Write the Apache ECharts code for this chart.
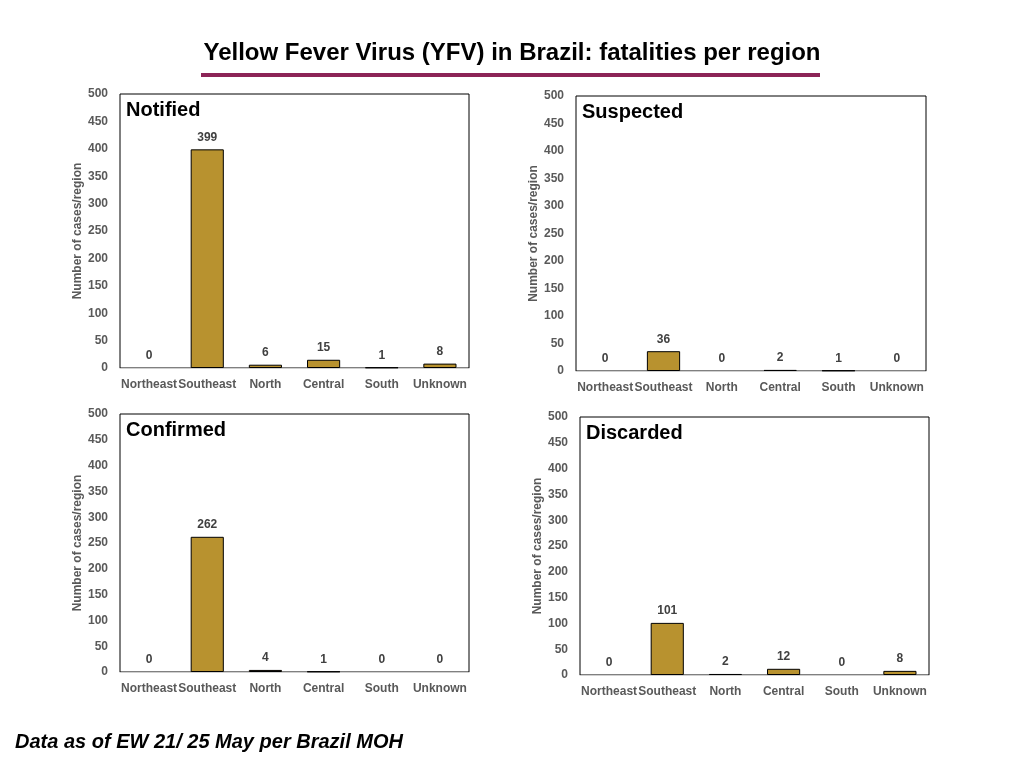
<!doctype html>
<html lang="en">
<head>
	<meta charset="UTF-8">
	<title>YFV in Brazil</title>
	<style>
		html, body { margin: 0; padding: 0; background: #fff; }
		#main { width: 1024px; height: 768px; }
	</style>
</head>
<body>
<div id="main"></div>
<script src="https://cdn.jsdelivr.net/npm/echarts@6/dist/echarts.min.js"></script>
<script type="text/javascript">
	var categories = ['Northeast', 'Southeast', 'North', 'Central', 'South', 'Unknown'];
	var notified = [0, 399, 6, 15, 1, 8];
	var suspected = [0, 36, 0, 2, 1, 0];
	var confirmed = [0, 262, 4, 1, 0, 0];
	var discarded = [0, 101, 2, 12, 0, 8];
	var panelNames = ['Notified', 'Suspected', 'Confirmed', 'Discarded'];
	var yTicks = [0, 50, 100, 150, 200, 250, 300, 350, 400, 450, 500];

	var panels = [notified, suspected, confirmed, discarded];
	// box of each plot, px
	var boxes = [
		{ left: 120, top: 94, width: 349, height: 274 },
		{ left: 576, top: 96, width: 350, height: 275 },
		{ left: 120, top: 414, width: 349, height: 258 },
		{ left: 580, top: 417, width: 349, height: 258 }
	];

	var font = 'Liberation Sans, Arial, sans-serif';
	var grey = '#595959';

	var grids = [], xAxes = [], yAxes = [], series = [], titles = [];

	titles.push({
		text: 'Yellow Fever Virus (YFV) in Brazil: fatalities per region',
		left: 'center',
		top: 36,
		textStyle: { fontFamily: font, fontWeight: 'bold', fontSize: 24, color: '#000' }
	});
	titles.push({
		text: 'Data as of EW 21/ 25 May per Brazil MOH',
		left: 10,
		top: 727,
		textStyle: { fontFamily: font, fontWeight: 'bold', fontStyle: 'italic', fontSize: 20, color: '#000' }
	});

	boxes.forEach(function (b, i) {
		grids.push({
			left: b.left, top: b.top, width: b.width, height: b.height,
			show: true, borderColor: '#000', borderWidth: 1, backgroundColor: '#fff'
		});
		titles.push({
			text: panelNames[i],
			left: b.left + 1, top: b.top + 1,
			textStyle: { fontFamily: font, fontWeight: 'bold', fontSize: 20, color: '#000' }
		});
		xAxes.push({
			type: 'category', gridIndex: i, data: categories,
			axisLine: { lineStyle: { color: '#d0d0d0', width: 1 } },
			axisTick: { show: false },
			axisLabel: { interval: 0, color: grey, fontWeight: 'bold', fontSize: 12, fontFamily: font, margin: 11 }
		});
		yAxes.push({
			type: 'value', gridIndex: i, min: yTicks[0], max: yTicks[yTicks.length - 1],
			interval: yTicks[1] - yTicks[0],
			name: 'Number of cases/region', nameLocation: 'middle', nameGap: 36,
			nameTextStyle: { color: grey, fontWeight: 'bold', fontSize: 12, fontFamily: font },
			axisLine: { show: false }, axisTick: { show: false },
			splitLine: { show: false },
			axisLabel: { color: grey, fontWeight: 'bold', fontSize: 12, fontFamily: font, margin: 12 }
		});
		series.push({
			type: 'bar', xAxisIndex: i, yAxisIndex: i,
			barWidth: '57%',
			data: panels[i].map(function (v) {
				return { value: v, itemStyle: { borderWidth: v === 0 ? 0 : 1 } };
			}),
			itemStyle: { color: '#B8922F', borderColor: '#000', borderWidth: 1 },
			label: {
				show: true, position: 'top', distance: 6,
				color: '#404040', fontWeight: 'bold', fontSize: 12, fontFamily: font
			}
		});
	});

	var myChart = echarts.init(document.getElementById('main'));
	myChart.setOption({
		backgroundColor: '#fff',
		animation: false,
		title: titles,
		grid: grids,
		xAxis: xAxes,
		yAxis: yAxes,
		series: series,
		graphic: [{
			type: 'rect',
			shape: { x: 201, y: 73, width: 619, height: 4 },
			style: { fill: '#8C2457' }
		}]
	});
</script>
</body>
</html>
